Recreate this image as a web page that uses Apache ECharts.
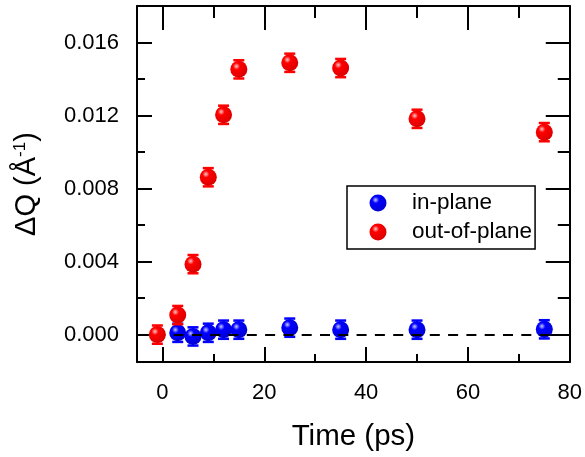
<!DOCTYPE html>
<html>
<head>
<meta charset="utf-8">
<script src="https://cdn.jsdelivr.net/npm/echarts@6/dist/echarts.min.js"></script>
<style>
html,body{margin:0;padding:0;background:#fff;}
#c{width:585px;height:457px;}
</style>
</head>
<body>
<div id="c"></div>
<script>
// ---- data ----
const xOut = [-1, 3, 6, 9, 12, 15, 25, 35, 50, 75];
const yOut = [0.0000, 0.00107, 0.00386, 0.00862, 0.01204, 0.01453, 0.01489, 0.01460, 0.01182, 0.01109];
const eOut = [0.0005, 0.0005, 0.0005, 0.0005, 0.0005, 0.0005, 0.0005, 0.0005, 0.0005, 0.0005];
const xIn = [3, 6, 9, 12, 15, 25, 35, 50, 75];
const yIn = [0.0001, -0.0001, 0.0001, 0.00027, 0.00027, 0.00038, 0.00027, 0.00027, 0.00029];
const eIn = [0.0005, 0.0005, 0.0005, 0.0005, 0.0005, 0.0005, 0.0005, 0.0005, 0.0005];
const xMajor = [0, 20, 40, 60, 80];
const xMinor = [10, 30, 50, 70];
const yMajor = [0, 0.004, 0.008, 0.012, 0.016];
const yMinor = [0.002, 0.006, 0.010, 0.014];
const seriesNames = ['in-plane', 'out-of-plane'];

const FONT = '"Liberation Sans", Arial, sans-serif';
const XMIN = -5, XMAX = 80, YMIN = -0.0015, YMAX = 0.018;

function sphere(base, light, dark) {
  return {
    type: 'radial', x: 0.36, y: 0.32, r: 0.72,
    colorStops: [
      {offset: 0, color: light},
      {offset: 0.28, color: base},
      {offset: 1, color: dark}
    ]
  };
}
const redFill = sphere('#ff0000', '#ffc8c8', '#d80000');
const blueFill = sphere('#0000ff', '#c8c8ff', '#0000d0');

function errRender(color) {
  return function (params, api) {
    const x = api.value(0), y = api.value(1), e = api.value(2);
    const t = api.coord([x, y + e]);
    const b = api.coord([x, y - e]);
    const w = 5.5;
    return {
      type: 'group',
      children: [
        {type: 'line', shape: {x1: t[0], y1: t[1], x2: b[0], y2: b[1]}, style: {stroke: color, lineWidth: 2}},
        {type: 'line', shape: {x1: t[0] - w, y1: t[1], x2: t[0] + w, y2: t[1]}, style: {stroke: color, lineWidth: 2.5}},
        {type: 'line', shape: {x1: b[0] - w, y1: b[1], x2: b[0] + w, y2: b[1]}, style: {stroke: color, lineWidth: 2.5}}
      ]
    };
  };
}

function xAx(pos, ticks, len, showLine, extra) {
  return Object.assign({
    type: 'value', min: XMIN, max: XMAX, position: pos,
    axisLine: {show: showLine, onZero: false, lineStyle: {color: '#000', width: 2}},
    axisTick: {show: true, inside: true, length: len, customValues: ticks, lineStyle: {color: '#000', width: 2}},
    axisLabel: {show: false},
    splitLine: {show: false}
  }, extra || {});
}
function yAx(pos, ticks, len, showLine, extra) {
  return Object.assign({
    type: 'value', min: YMIN, max: YMAX, position: pos,
    axisLine: {show: showLine, onZero: false, lineStyle: {color: '#000', width: 2}},
    axisTick: {show: true, inside: true, length: len, customValues: ticks, lineStyle: {color: '#000', width: 2}},
    axisLabel: {show: false},
    splitLine: {show: false}
  }, extra || {});
}

const chart = echarts.init(document.getElementById('c'), null, {renderer: 'canvas'});
chart.setOption({
  animation: false,
  backgroundColor: '#fff',
  textStyle: {fontFamily: FONT, color: '#000'},
  grid: {left: 137, right: 13, top: 6, bottom: 94, containLabel: false},
  legend: {
    orient: 'vertical', left: 347, top: 186,
    padding: [5.5, 3, 5.5, 22.5],
    borderColor: '#000', borderWidth: 1.5,
    itemWidth: 58, itemHeight: 17, itemGap: 6,
    selectedMode: false,
    textStyle: {fontFamily: FONT, fontSize: 22.5, color: '#000'},
    data: [{name: seriesNames[0], icon: 'circle'}, {name: seriesNames[1], icon: 'circle'}]
  },
  xAxis: [
    xAx('bottom', xMajor, 15, true, {
      axisLabel: {show: true, customValues: xMajor, fontSize: 22, color: '#000', fontFamily: FONT, margin: 20},
      name: 'Time (ps)', nameLocation: 'middle', nameGap: 60,
      nameTextStyle: {fontSize: 29.5, color: '#000', fontFamily: FONT}
    }),
    xAx('bottom', xMinor, 8, false),
    xAx('top', xMajor, 24, true),
    xAx('top', xMinor, 12, false)
  ],
  yAxis: [
    yAx('left', yMajor, 15, true, {
      axisLabel: {show: true, customValues: yMajor, fontSize: 22, color: '#000', fontFamily: FONT, margin: 18,
        formatter: v => v.toFixed(3)},
      name: '{a|ΔQ (Å}{s|-1}{a|)}', nameLocation: 'middle', nameGap: 96, nameRotate: 90,
      nameTextStyle: {fontSize: 29, color: '#000', fontFamily: FONT,
        rich: {a: {fontSize: 29, fontFamily: FONT, color: '#000'},
               s: {fontSize: 17, fontFamily: FONT, color: '#000', verticalAlign: 'top'}}}
    }),
    yAx('left', yMinor, 8, false),
    yAx('right', yMajor, 24, true),
    yAx('right', yMinor, 12, false)
  ],
  series: [
    {
      name: 'in-plane-err', type: 'custom', xAxisIndex: 0, yAxisIndex: 0, z: 2,
      renderItem: errRender('#0000ff'),
      data: xIn.map((x, i) => [x, yIn[i], eIn[i]]),
      markLine: {
        silent: true, symbol: 'none', label: {show: false},
        lineStyle: {color: '#000', width: 2, type: [10, 8.3]},
        data: [{yAxis: 0}]
      }
    },
    {
      name: seriesNames[0], type: 'scatter', xAxisIndex: 0, yAxisIndex: 0, z: 3,
      symbol: 'circle', symbolSize: 17,
      itemStyle: {color: blueFill, opacity: 1},
      data: xIn.map((x, i) => [x, yIn[i]])
    },
    {
      name: 'out-of-plane-err', type: 'custom', xAxisIndex: 0, yAxisIndex: 0, z: 4,
      renderItem: errRender('#ff0000'),
      data: xOut.map((x, i) => [x, yOut[i], eOut[i]])
    },
    {
      name: seriesNames[1], type: 'scatter', xAxisIndex: 0, yAxisIndex: 0, z: 5,
      symbol: 'circle', symbolSize: 17,
      itemStyle: {color: redFill, opacity: 1},
      data: xOut.map((x, i) => [x, yOut[i]])
    }
  ]
});
</script>
</body>
</html>
